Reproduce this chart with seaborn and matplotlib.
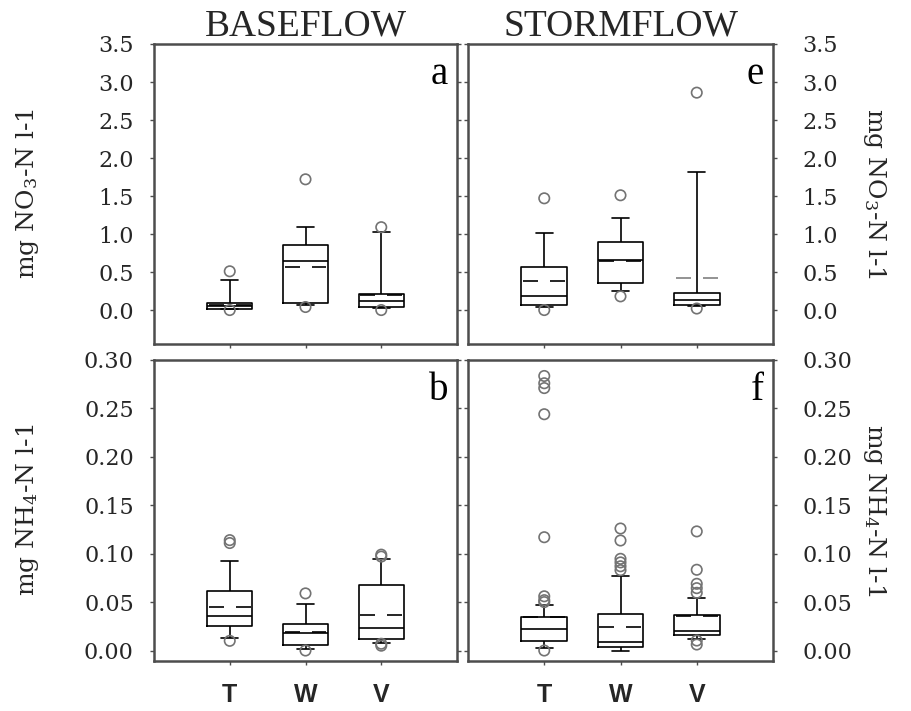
import matplotlib
matplotlib.use("Agg")
import matplotlib.pyplot as plt
import pandas as pd
import seaborn as sns

# ---------------- data ----------------
groups = ["T", "W", "V"]

# box summaries per site: [lower whisker (10th pct), Q1, median, Q3, upper whisker (90th pct)]
no3_base_boxes = [[0.01, 0.02, 0.05, 0.09, 0.39],
                  [0.07, 0.09, 0.65, 0.85, 1.09],
                  [0.03, 0.035, 0.12, 0.21, 1.03]]
no3_base_means = [0.07, 0.57, 0.20]
no3_base_out = [[0.51, 0.0], [1.72, 0.04], [1.09, 0.0]]

no3_storm_boxes = [[0.035, 0.07, 0.19, 0.57, 1.01],
                   [0.245, 0.35, 0.66, 0.89, 1.21],
                   [0.05, 0.07, 0.135, 0.22, 1.82]]
no3_storm_means = [0.38, 0.65, 0.42]
no3_storm_out = [[1.47, 0.0], [1.51, 0.18], [2.86, 0.02]]

nh4_base_boxes = [[0.013, 0.025, 0.036, 0.061, 0.092],
                  [0.002, 0.006, 0.018, 0.027, 0.048],
                  [0.008, 0.012, 0.0235, 0.068, 0.095]]
nh4_base_means = [0.045, 0.019, 0.037]
nh4_base_out = [[0.114, 0.111, 0.010],
                [0.059, 0.0],
                [0.099, 0.097, 0.007, 0.005]]

nh4_storm_boxes = [[0.003, 0.0097, 0.0224, 0.0345, 0.0475],
                   [0.0, 0.0035, 0.0087, 0.038, 0.077],
                   [0.012, 0.016, 0.0204, 0.0362, 0.054]]
nh4_storm_means = [0.0345, 0.0248, 0.0355]
nh4_storm_out = [[0.2835, 0.276, 0.271, 0.244, 0.117, 0.056, 0.052, 0.050, 0.0],
                 [0.126, 0.1136, 0.0947, 0.091, 0.087, 0.083],
                 [0.123, 0.0834, 0.0689, 0.0644, 0.0596, 0.0103, 0.0062]]

no3_ticks = [0.0, 0.5, 1.0, 1.5, 2.0, 2.5, 3.0, 3.5]
nh4_ticks = [0.00, 0.05, 0.10, 0.15, 0.20, 0.25, 0.30]

# ---------------- style ----------------
sns.set_theme(style="white")
plt.rcParams["font.family"] = ["DejaVu Serif", "DejaVu Sans"]
plt.rcParams["mathtext.fontset"] = "dejavuserif"

SPINE_C = "0.3"
FLIER_C = "0.45"


def long_df(per_group):
    rows = []
    for g, vals in zip(groups, per_group):
        for v in vals:
            rows.append((g, v))
    return pd.DataFrame(rows, columns=["site", "value"])


def draw_panel(ax, boxes, means, outs, mean_colors):
    sns.boxplot(data=long_df(boxes), x="site", y="value", order=groups,
                whis=(0, 100), width=0.6, fill=False, color="black",
                linecolor="black", linewidth=1.2, showfliers=False,
                capwidths=0.22, ax=ax)
    sns.stripplot(data=long_df(outs), x="site", y="value", order=groups,
                  jitter=False, size=7.5, color=FLIER_C, facecolor="none",
                  edgecolor=FLIER_C, linewidth=1.2, zorder=4, ax=ax)
    for i, (m, c) in enumerate(zip(means, mean_colors)):
        ax.hlines(m, i - 0.276, i + 0.276, colors=c, linewidth=1.2,
                  linestyles=[(0, (9.0, 7.2))], zorder=3)


fig = plt.figure(figsize=(9.11, 7.11), dpi=100)
W, H = 911.0, 711.0
axTL = fig.add_axes([154 / W, (H - 343.5) / H, 303 / W, 299.5 / H])
axTR = fig.add_axes([468 / W, (H - 343.5) / H, 305 / W, 299.5 / H])
axBL = fig.add_axes([154 / W, (H - 660.5) / H, 303 / W, 300.5 / H])
axBR = fig.add_axes([468 / W, (H - 660.5) / H, 305 / W, 300.5 / H])

draw_panel(axTL, no3_base_boxes, no3_base_means, no3_base_out, ["black"] * 3)
draw_panel(axTR, no3_storm_boxes, no3_storm_means, no3_storm_out, ["black", "black", "0.5"])
draw_panel(axBL, nh4_base_boxes, nh4_base_means, nh4_base_out, ["black"] * 3)
draw_panel(axBR, nh4_storm_boxes, nh4_storm_means, nh4_storm_out, ["black"] * 3)

panels = [
    (axTL, no3_ticks, "%.1f", (-0.44, 3.5), "left", False, "a"),
    (axTR, no3_ticks, "%.1f", (-0.44, 3.5), "right", False, "e"),
    (axBL, nh4_ticks, "%.2f", (-0.0103, 0.30), "left", True, "b"),
    (axBR, nh4_ticks, "%.2f", (-0.0103, 0.30), "right", True, "f"),
]

for ax, ticks, fmt, ylim, side, xlab, letter in panels:
    ax.set_xlim(-1, 3)
    ax.set_ylim(*ylim)
    ax.set_yticks(ticks)
    ax.set_yticklabels([fmt % t for t in ticks], fontsize=16, fontfamily="DejaVu Serif")
    ax.set_xticks([0, 1, 2])
    if xlab:
        ax.set_xticklabels(groups, fontsize=18, fontweight="bold",
                           fontfamily="Liberation Sans")
    else:
        ax.set_xticklabels(["", "", ""])
    ax.set_xlabel("")
    ax.set_ylabel("")
    for sp in ax.spines.values():
        sp.set_visible(True)
        sp.set_color(SPINE_C)
        sp.set_linewidth(1.8)
    ax.tick_params(axis="x", which="both", direction="out", length=3, width=1,
                   color=SPINE_C, bottom=True, top=False, pad=13)
    if side == "left":
        ax.tick_params(axis="y", direction="out", length=3, width=1, color=SPINE_C,
                       left=True, right=True, labelleft=True, labelright=False, pad=11.5)
    else:
        ax.tick_params(axis="y", direction="out", length=3, width=1, color=SPINE_C,
                       left=True, right=True, labelleft=False, labelright=True, pad=18)
    ax.annotate(letter, xy=(1, 1), xycoords="axes fraction", xytext=(-6.5, -28.5),
                textcoords="offset points", ha="right", va="baseline",
                fontsize=28, fontfamily="Liberation Serif", color="black")

axTL.set_title("BASEFLOW", fontsize=27, fontfamily="Liberation Serif", pad=4)
axTR.set_title("STORMFLOW", fontsize=27, fontfamily="Liberation Serif", pad=4)

lab_no3 = "mg NO$_3$-N l-1"
lab_nh4 = "mg NH$_4$-N l-1"

for ax, txt in [(axTL, lab_no3), (axBL, lab_nh4)]:
    ax.set_ylabel(txt, fontsize=18, rotation=90, va="center", ha="center",
                  rotation_mode="anchor")
    ax.yaxis.set_label_coords(-0.419, 0.5)

for ax, txt in [(axTR, lab_no3), (axBR, lab_nh4)]:
    ax.yaxis.set_label_position("right")
    ax.set_ylabel(txt, fontsize=18, rotation=270, va="center", ha="center",
                  rotation_mode="anchor")
    ax.yaxis.set_label_coords(1.334, 0.5)

fig.savefig("out.png", dpi=100)
